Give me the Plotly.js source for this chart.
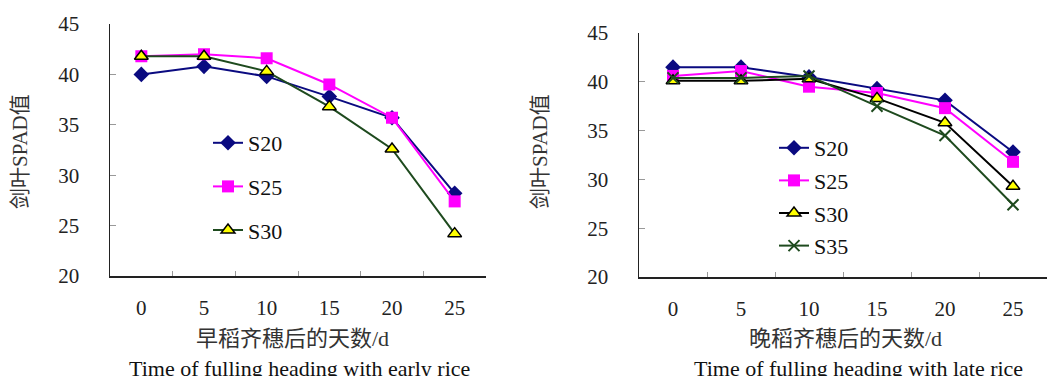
<!DOCTYPE html>
<html>
<head>
<meta charset="utf-8">
<script src="https://cdn.plot.ly/plotly-3.0.1.min.js"></script>
<style>html,body{margin:0;padding:0;background:#fff;}#chart{width:1051px;height:376px;}</style>
</head>
<body>
<div id="chart"></div>
<script>
// Days after full heading (category labels)
const days = ['0', '5', '10', '15', '20', '25'];

// Early rice (left panel)
const earlyS20 = [40.0, 40.8, 39.8, 37.8, 35.7, 28.2];
const earlyS25 = [41.8, 42.0, 41.6, 39.0, 35.7, 27.4];
const earlyS30 = [41.8, 41.8, 40.3, 36.8, 32.6, 24.2];

// Late rice (right panel)
const lateS20 = [41.5, 41.5, 40.5, 39.3, 38.1, 32.8];
const lateS25 = [40.6, 41.1, 39.5, 38.85, 37.3, 31.8];
const lateS30 = [40.1, 40.1, 40.3, 38.3, 35.8, 29.3];
const lateS35 = [40.4, 40.4, 40.6, 37.5, 34.5, 27.4];

const yTicks = [20, 25, 30, 35, 40, 45];
const yTitle = '剑叶SPAD值';
const xTitleEarlyCn = '早稻齐穗后的天数/d';
const xTitleEarlyEn = 'Time of fulling heading with early rice';
const xTitleLateCn = '晚稻齐穗后的天数/d';
const xTitleLateEn = 'Time of fulling heading with late rice';

const W = 1051, H = 376;
const px = v => v / W;
const py = v => 1 - v / H;

const serif = '"Liberation Serif", "Times New Roman", "Noto Sans CJK SC", serif';
const NAVY = '#0a0a80', MAG = '#ff00ff', DKGREEN = '#1e4a1e', BLACK = '#000000', YEL = '#ffff00';

function diamond(x, y, xa, ya, name, leg) {
  return {x: x, y: y, xaxis: xa, yaxis: ya, name: name, legend: leg, legendgroup: leg + name,
    type: 'scatter', mode: 'lines+markers', line: {color: NAVY, width: 2},
    marker: {symbol: 'diamond', size: 12, color: NAVY, line: {color: NAVY, width: 0}}};
}
function square(x, y, xa, ya, name, leg) {
  return {x: x, y: y, xaxis: xa, yaxis: ya, name: name, legend: leg, legendgroup: leg + name,
    type: 'scatter', mode: 'lines+markers', line: {color: MAG, width: 2},
    marker: {symbol: 'square', size: 12, color: MAG, line: {color: MAG, width: 0}}};
}
function tri(x, y, xa, ya, name, leg, col) {
  return {x: x, y: y, xaxis: xa, yaxis: ya, name: name, legend: leg, legendgroup: leg + name,
    type: 'scatter', mode: 'lines+markers', line: {color: col, width: 2},
    marker: {symbol: 'triangle-up', size: 12, color: YEL, line: {color: BLACK, width: 1.5}}};
}
function cross(x, y, xa, ya, name, leg, col) {
  return {x: x, y: y, xaxis: xa, yaxis: ya, name: name, legend: leg, legendgroup: leg + name,
    type: 'scatter', mode: 'lines+markers', line: {color: col, width: 2},
    marker: {symbol: 'x-thin', size: 11, color: col, line: {color: col, width: 2}}};
}

const data = [
  diamond(days, earlyS20, 'x', 'y', 'S20', 'legend'),
  square(days, earlyS25, 'x', 'y', 'S25', 'legend'),
  tri(days, earlyS30, 'x', 'y', 'S30', 'legend', DKGREEN),
  diamond(days, lateS20, 'x2', 'y2', 'S20', 'legend2'),
  square(days, lateS25, 'x2', 'y2', 'S25', 'legend2'),
  tri(days, lateS30, 'x2', 'y2', 'S30', 'legend2', BLACK),
  cross(days, lateS35, 'x2', 'y2', 'S35', 'legend2', DKGREEN)
];

const tickFont = {family: serif, size: 21, color: '#222'};

function xAxis(domain, anchor) {
  return {domain: domain, anchor: anchor, type: 'category', categoryorder: 'array', categoryarray: days,
    range: [-0.5, 5.5], showline: true, linecolor: '#222', linewidth: 1.5, showgrid: false, zeroline: false,
    ticks: 'inside', tickson: 'boundaries', ticklen: 5, tickcolor: '#999', tickwidth: 1,
    tickfont: tickFont, ticklabelstandoff: 12, fixedrange: true};
}
function yAxis(domain, anchor) {
  return {domain: domain, anchor: anchor, range: [20, 45], tickvals: yTicks, showline: true,
    linecolor: '#222', linewidth: 1.5, showgrid: false, zeroline: false,
    ticks: 'inside', ticklen: 6, tickcolor: '#999', tickwidth: 1,
    tickfont: tickFont, ticklabelstandoff: 25, fixedrange: true};
}

const cnFont = {family: serif, size: 22, color: '#333'};
const enFont = {family: serif, size: 22, color: '#111'};
const legendFont = {family: serif, size: 22, color: '#111'};

const layout = {
  width: W, height: H,
  margin: {l: 0, r: 0, t: 0, b: 0},
  paper_bgcolor: '#fff', plot_bgcolor: 'rgba(0,0,0,0)',
  showlegend: true,
  xaxis: xAxis([px(110), px(486)], 'y'),
  yaxis: yAxis([py(276), py(24)], 'x'),
  xaxis2: xAxis([px(639), px(1047)], 'y2'),
  yaxis2: yAxis([py(277), py(33)], 'x2'),
  legend: {x: px(208), y: py(122), xanchor: 'left', yanchor: 'top', bgcolor: 'rgba(0,0,0,0)',
    font: legendFont, tracegroupgap: 12},
  legend2: {x: px(774), y: py(127), xanchor: 'left', yanchor: 'top', bgcolor: 'rgba(0,0,0,0)',
    font: legendFont, tracegroupgap: 1},
  annotations: [
    {text: yTitle, xref: 'paper', yref: 'paper', x: px(20), y: py(152), xanchor: 'center', yanchor: 'middle',
      showarrow: false, textangle: -90, font: {family: serif, size: 21, color: '#333'}},
    {text: yTitle, xref: 'paper', yref: 'paper', x: px(540), y: py(152), xanchor: 'center', yanchor: 'middle',
      showarrow: false, textangle: -90, font: {family: serif, size: 21, color: '#333'}},
    {text: xTitleEarlyCn, xref: 'paper', yref: 'paper', x: px(292), y: py(338), xanchor: 'center', yanchor: 'middle',
      showarrow: false, font: cnFont},
    {text: xTitleEarlyEn, xref: 'paper', yref: 'paper', x: px(299), y: py(368), xanchor: 'center', yanchor: 'middle',
      showarrow: false, font: enFont},
    {text: xTitleLateCn, xref: 'paper', yref: 'paper', x: px(845), y: py(338), xanchor: 'center', yanchor: 'middle',
      showarrow: false, font: cnFont},
    {text: xTitleLateEn, xref: 'paper', yref: 'paper', x: px(858), y: py(368), xanchor: 'center', yanchor: 'middle',
      showarrow: false, font: enFont}
  ]
};

Plotly.newPlot('chart', data, layout, {displayModeBar: false, staticPlot: true});
</script>
</body>
</html>
